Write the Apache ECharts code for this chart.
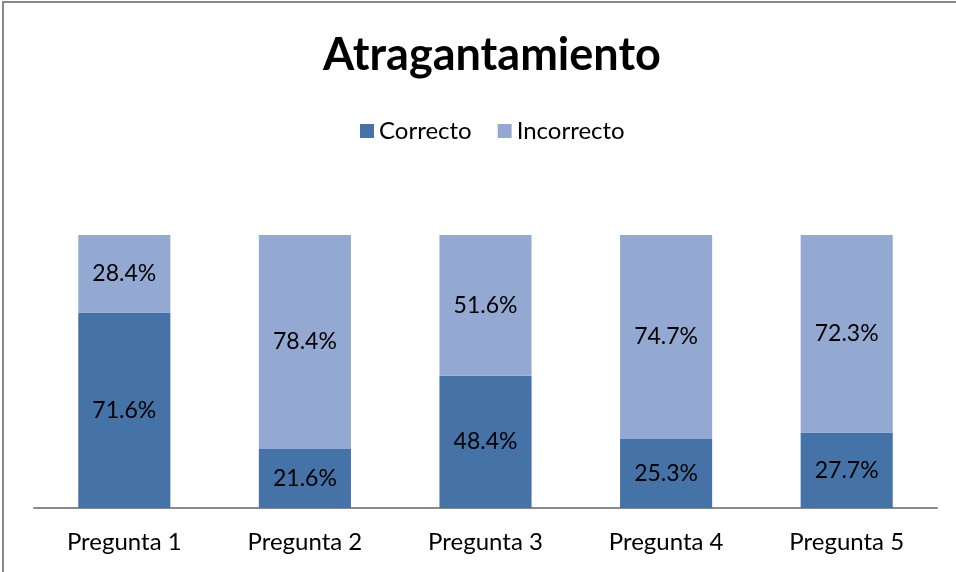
<!DOCTYPE html>
<html>
<head>
<meta charset="utf-8">
<script src="https://cdn.jsdelivr.net/npm/echarts@6/dist/echarts.min.js"></script>
<style>
  html, body { margin: 0; padding: 0; background: #fff; }
  #chart { width: 956px; height: 572px; }
</style>
</head>
<body>
<div id="chart"></div>
<script>
const categories = ['Pregunta 1', 'Pregunta 2', 'Pregunta 3', 'Pregunta 4', 'Pregunta 5']
const correcto = [71.6, 21.6, 48.4, 25.3, 27.7]
const incorrecto = [28.4, 78.4, 51.6, 74.7, 72.3]

const font = 'Lato, "Open Sans", sans-serif'
const chart = echarts.init(document.getElementById('chart'))

const labelStyle = {
  show: true,
  position: 'inside',
  color: '#000',
  fontSize: 23,
  fontFamily: font,
  formatter: (p) => p.value.toFixed(1) + '%'
}

chart.setOption({
  backgroundColor: '#fff',
  animation: false,
  title: {
    text: 'Atragantamiento',
    left: 318,
    top: 28,
    textStyle: { fontSize: 45, fontWeight: 'bold', color: '#000', fontFamily: font }
  },
  legend: {
    top: 114,
    left: 355,
    itemWidth: 14,
    itemHeight: 14,
    itemGap: 26,
    icon: 'rect',
    textStyle: { fontSize: 24, color: '#000', fontFamily: font },
    data: ['Correcto', 'Incorrecto']
  },
  graphic: [{
    type: 'rect',
    shape: { x: 3, y: 2, width: 980, height: 600 },
    style: { fill: 'none', stroke: '#8a8a8a', lineWidth: 2 },
    silent: true
  }],
  grid: { left: 34, right: 19, top: 235, bottom: 64 },
  xAxis: {
    type: 'category',
    data: categories,
    axisLine: { show: true, lineStyle: { color: '#8a8a8a', width: 2 } },
    axisTick: { show: false },
    axisLabel: { fontSize: 24, color: '#000', margin: 22, fontFamily: font }
  },
  yAxis: {
    type: 'value',
    min: 0,
    max: 100,
    show: false,
    splitLine: { show: false }
  },
  series: [
    {
      name: 'Correcto',
      type: 'bar',
      stack: 'total',
      barWidth: '51%',
      itemStyle: { color: '#4572A7' },
      label: labelStyle,
      data: correcto
    },
    {
      name: 'Incorrecto',
      type: 'bar',
      stack: 'total',
      barWidth: '51%',
      itemStyle: { color: '#94A9D2' },
      label: labelStyle,
      data: incorrecto
    }
  ]
})
</script>
</body>
</html>
